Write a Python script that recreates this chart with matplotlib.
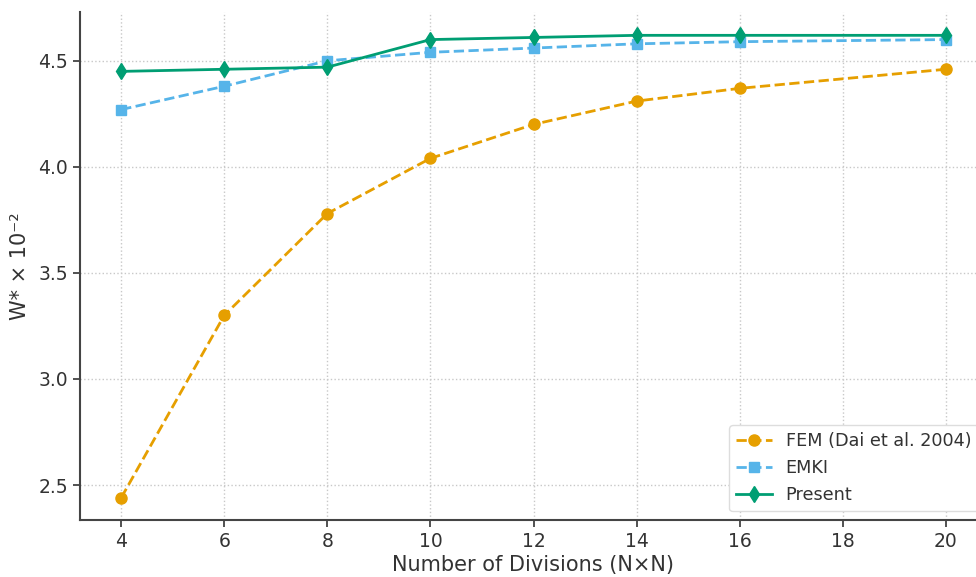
import matplotlib.pyplot as plt

# Mesh sizes (N x N)
divisions = [4, 6, 8, 10, 12, 14, 16, 20]

# Dimensionless deflection W* x 10^-2
fem_dai = [2.44, 3.30, 3.78, 4.04, 4.20, 4.31, 4.37, 4.46]
emki = [4.27, 4.38, 4.50, 4.54, 4.56, 4.58, 4.59, 4.60]
present = [4.45, 4.46, 4.47, 4.60, 4.61, 4.62, 4.62, 4.62]

x_ticks = [4, 6, 8, 10, 12, 14, 16, 18, 20]
y_ticks = [2.5, 3.0, 3.5, 4.0, 4.5]

fig = plt.figure(figsize=(9.76, 5.77), dpi=100)
# the reference is cropped on the right and top, so the axes run past the figure edge
ax = fig.add_axes([80 / 976, 57 / 577, 907 / 976, 508 / 577])

ax.plot(divisions, fem_dai, color="#E69F00", linestyle="--", marker="o",
        markersize=8, linewidth=2, label="FEM (Dai et al. 2004)")
ax.plot(divisions, emki, color="#56B4E9", linestyle="--", marker="s",
        markersize=7, linewidth=2, label="EMKI")
ax.plot(divisions, present, color="#009E73", linestyle="-", marker="d",
        markersize=8, linewidth=2, label="Present")

ax.set_xticks(x_ticks)
ax.set_yticks(y_ticks)
ax.set_xlim(3.2, 20.8)
ax.set_ylim(2.335, 4.73)

ax.set_xlabel("Number of Divisions (N×N)", fontsize=15, color="#333333", labelpad=3)
ax.set_ylabel("W* × 10⁻²", fontsize=15, color="#333333", labelpad=6)
ax.tick_params(labelsize=13.5, colors="#333333", length=5, width=1.2)

ax.grid(True, linestyle=":", color="#c8c8c8", linewidth=1)
ax.spines["top"].set_visible(False)
ax.spines["right"].set_visible(False)
for side in ["left", "bottom"]:
    ax.spines[side].set_color("#444444")
    ax.spines[side].set_linewidth(1.5)

leg = ax.legend(loc="lower right", fontsize=12.7, framealpha=1, edgecolor="#dddddd")
for t in leg.get_texts():
    t.set_color("#333333")

fig.savefig("out.png", dpi=100)
